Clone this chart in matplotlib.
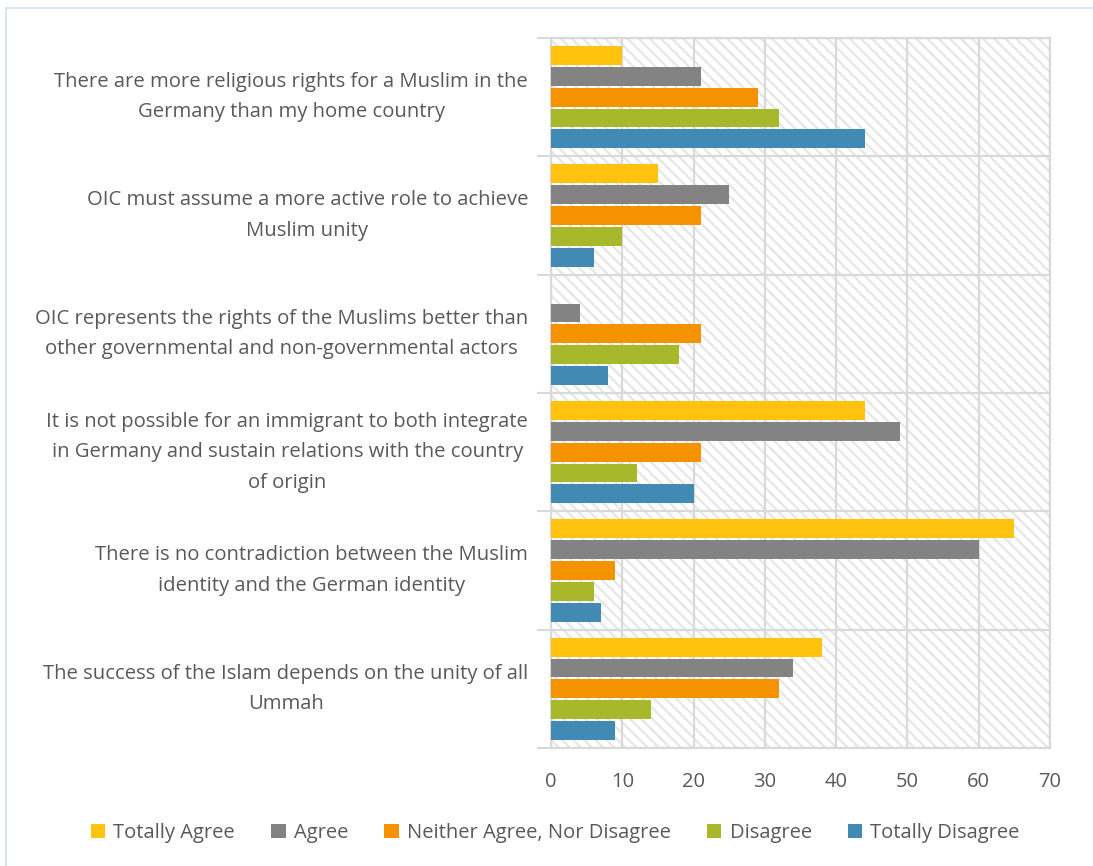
import matplotlib
matplotlib.use('Agg')
import matplotlib.pyplot as plt
from matplotlib.patches import Rectangle
import numpy as np

# statements, top to bottom
statements = [
    "There are more religious rights for a Muslim in the\nGermany than my home country",
    "OIC must assume a more active role to achieve\nMuslim unity",
    "OIC represents the rights of the Muslims better than\nother governmental and non-governmental actors",
    "It is not possible for an immigrant to both integrate\nin Germany and sustain relations with the country\nof origin",
    "There is no contradiction between the Muslim\nidentity and the German identity",
    "The success of the Islam depends on the unity of all\nUmmah",
]

totally_agree = [10, 15, 0, 44, 65, 38]
agree = [21, 25, 4, 49, 60, 34]
neither = [29, 21, 21, 21, 9, 32]
disagree = [32, 10, 18, 12, 6, 14]
totally_disagree = [44, 6, 8, 20, 7, 9]

series_names = ['Totally Agree', 'Agree', 'Neither Agree, Nor Disagree', 'Disagree', 'Totally Disagree']
series_vals = [totally_agree, agree, neither, disagree, totally_disagree]
colors = ['#FFC20E', '#838383', '#F59200', '#A7B82B', '#428AB4']
xticks = [0, 10, 20, 30, 40, 50, 60, 70]

plt.rcParams['font.family'] = ['Open Sans', 'DejaVu Sans']
plt.rcParams['hatch.linewidth'] = 1.6
txt_color = '#595959'
grid_color = '#D9D9D9'

fig = plt.figure(figsize=(10.93, 8.66), dpi=100)
ax = fig.add_axes([551 / 1093, 1 - 748 / 866, 499 / 1093, 710 / 866])

# hatched plot background
bg = Rectangle((0, 0), 1, 1, transform=ax.transAxes, facecolor='white',
               edgecolor='#E6E6E6', hatch='\\\\\\', linewidth=0, zorder=0)
ax.add_patch(bg)

y = np.arange(len(statements))
step = 0.176
for k, (name, vals, col) in enumerate(zip(series_names, series_vals, colors)):
    ax.barh(y + (k - 2) * step, vals, height=0.16, color=col, label=name, zorder=3)

ax.set_xlim(0, 70)
ax.set_ylim(len(statements) - 0.5, -0.5)
ax.set_xticks(xticks)
ax.set_xticklabels([str(t) for t in xticks])
ax.set_yticks(y)
ax.set_yticklabels(statements, multialignment='center', linespacing=1.7, va='center')
ax.set_yticks(np.arange(len(statements) + 1) - 0.5, minor=True)

ax.tick_params(axis='x', length=0, pad=17, labelsize=14.5, labelcolor=txt_color)
ax.tick_params(axis='y', which='major', length=0, pad=16.5, labelsize=14.6, labelcolor=txt_color)
ax.tick_params(axis='y', which='minor', length=10, width=1.5, color=grid_color)

ax.grid(True, axis='x', which='major', color=grid_color, linewidth=1.6, zorder=1)
ax.grid(True, axis='y', which='minor', color=grid_color, linewidth=1.6, zorder=1)
ax.set_axisbelow(True)
for s in ax.spines.values():
    s.set_color(grid_color)
    s.set_linewidth(1.6)

fig.legend(loc='center', bbox_to_anchor=(0.508, 1 - 833 / 866), ncol=5, frameon=False,
           fontsize=14.5, labelcolor=txt_color, handlelength=0.72, handleheight=0.72,
           handletextpad=0.4, columnspacing=1.8)

# light blue outer border
fig.add_artist(Rectangle((6 / 1093, -0.01), 1.1, 1 - 8 / 866 + 0.01, transform=fig.transFigure,
                         fill=False, edgecolor='#DAE6F1', linewidth=1.5))

fig.savefig('out.png', dpi=100)
